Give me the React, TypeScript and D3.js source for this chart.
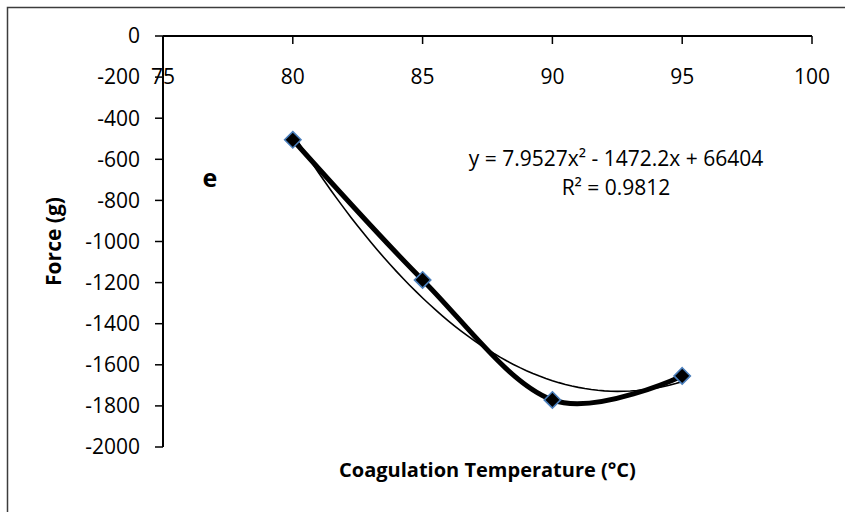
import React from 'react';
import * as d3 from 'd3';

// data
const temps = [80, 85, 90, 95];
const force = [-505, -1187, -1771, -1654];
const xTicks = [75, 80, 85, 90, 95, 100];
const yTicks = [0, -200, -400, -600, -800, -1000, -1200, -1400, -1600, -1800, -2000];
// polynomial trendline, as printed on the chart
const trendCoef = [7.9527, -1472.2, 66404];
const trendText = ['y = 7.9527x² - 1472.2x + 66404', 'R² = 0.9812'];

const W = 845;
const H = 512;
const font = "'Open Sans', 'Liberation Sans', sans-serif";

export default function App() {
  const x = d3.scaleLinear().domain([75, 100]).range([163, 812]);
  const y = d3.scaleLinear().domain([-2000, 0]).range([447, 36]);

  const pts: [number, number][] = temps.map((t, i) => [t, force[i]]);
  const smooth = d3.line<[number, number]>()
    .x(d => x(d[0]))
    .y(d => y(d[1]))
    .curve(d3.curveCardinal.tension(0));

  const trendX = d3.range(temps[0], temps[temps.length - 1] + 0.001, 0.25);
  const trendPts: [number, number][] = trendX.map(t => [t, trendCoef[0] * t * t + trendCoef[1] * t + trendCoef[2]]);
  const trend = d3.line<[number, number]>()
    .x(d => x(d[0]))
    .y(d => y(d[1]));

  const x0 = x.range()[0], x1 = x.range()[1];
  const yTop = y.range()[1], yBot = y.range()[0];
  const diamond = d3.symbol(d3.symbolDiamond2, 170)();

  return (
    <svg width={W} height={H} style={{position: 'absolute', left: 0, top: 0, background: '#fff'}}
      fontFamily={font}>
      <rect x={7.5} y={7.5} width={W + 20} height={H + 20} fill="#fff" stroke="#3c3c3c" strokeWidth={1.5}/>

      {/* x axis along the top (y = 0) */}
      {xTicks.map(t => (
        <g key={'x' + t}>
          <line x1={x(t)} x2={x(t)} y1={yTop} y2={yTop + 8} stroke="#000" strokeWidth={1.5}/>
          <text x={x(t)} y={y(-200)} dy="0.35em" textAnchor="middle" fontSize={21} fill="#000">{t}</text>
        </g>
      ))}
      <line x1={x0} x2={x1} y1={yTop} y2={yTop} stroke="#000" strokeWidth={2}/>

      {/* y axis */}
      {yTicks.map(t => (
        <g key={'y' + t}>
          <line x1={x0 - 8} x2={x0} y1={y(t)} y2={y(t)} stroke="#000" strokeWidth={1.5}/>
          <text x={x0 - 23} y={y(t)} dy="0.35em" textAnchor="end" fontSize={21} fill="#000">{t}</text>
        </g>
      ))}
      <line x1={x0} x2={x0} y1={yTop} y2={yBot} stroke="#000" strokeWidth={2}/>

      {/* trendline and series */}
      <path d={trend(trendPts) || ''} fill="none" stroke="#000" strokeWidth={1.6}/>
      <path d={smooth(pts) || ''} fill="none" stroke="#000" strokeWidth={5}/>
      {pts.map((p, i) => (
        <path key={'m' + i} d={diamond || ''} transform={`translate(${x(p[0])},${y(p[1])})`}
          fill="#000" stroke="#4a7ebb" strokeWidth={1.6}/>
      ))}

      {/* labels */}
      <text x={616} y={166} textAnchor="middle" fontSize={21} fill="#000">{trendText[0]}</text>
      <text x={616} y={195} textAnchor="middle" fontSize={21} fill="#000">{trendText[1]}</text>
      <text x={210} y={187} textAnchor="middle" fontSize={25} fontWeight="bold" fill="#000">e</text>
      <text x={(x0 + x1) / 2} y={477} textAnchor="middle" fontSize={20} fontWeight="bold" fill="#000">
        Coagulation Temperature (°C)
      </text>
      <text transform={`translate(61,${(yTop + yBot) / 2}) rotate(-90)`} textAnchor="middle" fontSize={21}
        fontWeight="bold" fill="#000">Force (g)</text>
    </svg>
  );
}
